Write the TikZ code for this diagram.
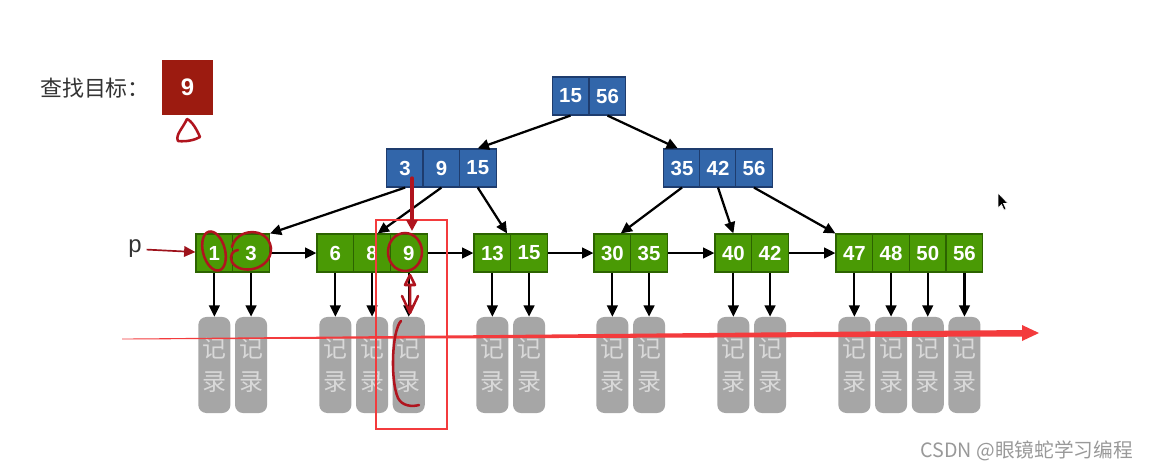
\documentclass[tikz,border=0pt]{standalone}
\usepackage{fontspec}
\setmainfont{Liberation Sans}
\newfontfamily\cjk{Noto Sans CJK SC}
\usetikzlibrary{arrows.meta,positioning,calc}
\definecolor{treeblue}{HTML}{3266AA}
\definecolor{blueline}{HTML}{1E3C6E}
\definecolor{leafgreen}{HTML}{4A9A05}
\definecolor{greenline}{HTML}{2C6300}
\definecolor{recgray}{HTML}{A6A6A6}
\definecolor{rectext}{HTML}{D9D9D9}
\definecolor{targetred}{HTML}{9C1B10}
\definecolor{inkred}{HTML}{B0141E}
\definecolor{markred}{HTML}{F33B3D}
\definecolor{textgray}{HTML}{333333}

\begin{document}
\begin{tikzpicture}[x=0.025cm, y=-0.025cm,
  bcell/.style={draw=blueline, fill=treeblue, line width=0.8pt, minimum width=0.92cm, minimum height=0.95cm, inner sep=0pt, text=white, font=\fontsize{14.5}{16}\selectfont\bfseries},
  gcell/.style={bcell, draw=greenline, fill=leafgreen},
  record/.style={fill=recgray, rounded corners=0.2cm, minimum width=0.8cm, minimum height=2.4cm, inner sep=0pt, text=rectext, align=center, font=\cjk\fontsize{17}{23.4}\selectfont},
  link/.style={-{Triangle[length=8pt,width=7.5pt]}, line width=1.6pt},
  ink/.style={inkred, line width=1.8pt, line cap=round, line join=round}]
\fill[white] (0,0) rectangle (1152,469);
\useasboundingbox (0,0) rectangle (1152,469);

\node[text=textgray, font=\cjk\fontsize{15.6}{18}\selectfont] (goal) at (95,88) {查找目标：};
\node[fill=targetred, minimum width=1.275cm, minimum height=1.375cm, inner sep=0pt, text=white, font=\fontsize{17}{20}\selectfont\bfseries] (target) at (187.5,87.5) {9};

\foreach \k [count=\i] in {15,56} \node[bcell] (r\i) at ({552+37*\i-18.5},96) {\k};
\foreach \k [count=\i] in {3,9,15} \node[bcell] (a\i) at ({387+36.3*\i-18.15},168) {\k};
\foreach \k [count=\i] in {35,42,56} \node[bcell] (b\i) at ({664+36*\i-18},168) {\k};

\foreach \leaf/\xs/\keys in {1/196/{1,3}, 2/317/{6,8,9}, 3/474/{13,15}, 4/594/{30,35}, 5/715/{40,42}, 6/836/{47,48,50,56}} {
  \foreach \k [count=\i] in \keys {
    \node[gcell] (l\leaf\i) at ({\xs+36.7*\i-18.35},253) {\k};
    \node[record] (rec\leaf\i) at ({\xs+36.7*\i-18.35},365) {记\\录};
    \draw[link] (l\leaf\i) -- (rec\leaf\i);
  }
}

\draw[link] (r1.south) -- (a3.north);
\draw[link] (r2.south) -- ([xshift=-3pt]b1.north);
\draw[link] (a1.south) -- (l12.north east);
\draw[link] (a2.south) -- ([xshift=4pt]l22.north);
\draw[link] (a3.south) -- ([xshift=-3pt]l31.north east);
\draw[link] (b1.south) -- ([xshift=6pt]l41.north);
\draw[link] (b2.south) -- (l51.north);
\draw[link] (b3.south) -- (l61.north west);

\draw[link] (l12) -- (l21);
\draw[link] (l23) -- (l31);
\draw[link] (l32) -- (l41);
\draw[link] (l42) -- (l51);
\draw[link] (l52) -- (l61);

\node[text=textgray, font=\fontsize{17}{20}\selectfont] (p) at (135,249) {p};
\draw[inkred!90!black, line width=1.2pt, -{Triangle[length=8pt,width=7.5pt]}] (p) -- (l11);

\fill[markred] (122,338.6) -- (1022,330) -- (1022,325) -- (1039,333) -- (1022,341) -- (1022,336.5) -- (122,339.4) -- cycle;
\draw[markred, line width=1.7pt] (376,220) rectangle (447,429);

\draw[ink] (187,119) .. controls (183,128) and (175,135) .. (178,141) .. controls (186,142) and (195,140) .. (200,137) .. controls (197,130) and (192,121) .. (187,119);
\draw[ink, line width=2.4pt, -{Triangle[length=8pt,width=8pt]}] (412,178) -- (412,231);
\draw[ink, rotate around={15:(214,251)}] (214,251) ellipse [x radius=11, y radius=20];
\draw[ink] (232,247) .. controls (236,228) and (268,226) .. (271,248) .. controls (272,270) and (240,276) .. (232,262) .. controls (229,256) and (233,250) .. (238,250);
\draw[ink] (405,252) ellipse [x radius=17, y radius=19];
\draw[ink] (410,275) -- (405,285) -- (415,285) -- cycle (410,285) -- (410,313) (402,296) -- (410,313) -- (418,296);
\draw[ink] (401,321) .. controls (392,330) and (390,380) .. (398,398) .. controls (402,406) and (412,407) .. (419,405);

\filldraw[fill=black, draw=white, line width=0.4pt] (998,193) -- (998,208) -- (1001.5,204.5) -- (1004,210) -- (1006,209) -- (1003.5,203.5) -- (1008,203.5) -- cycle;

\node[text=gray!80, font=\cjk\fontsize{14}{16}\selectfont, anchor=east] (mark) at (1138,451) {CSDN @眼镜蛇学习编程};
\end{tikzpicture}
\end{document}
